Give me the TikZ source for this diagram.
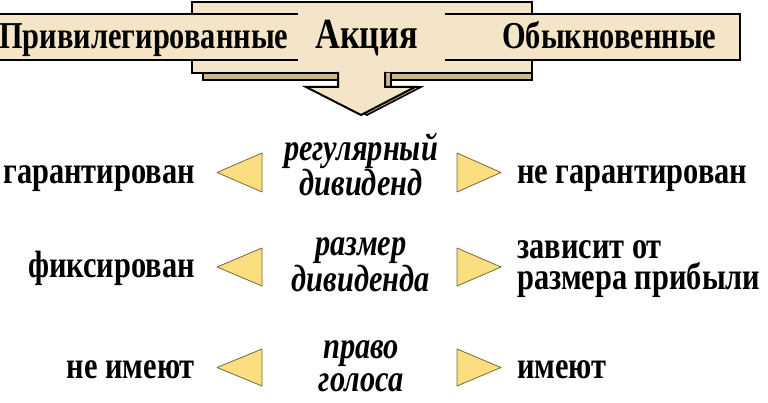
\documentclass[tikz,border=0pt]{standalone}
\usepackage{fontspec}
\setmainfont{Liberation Serif}[FakeStretch=0.80]
\definecolor{bezh}{RGB}{245,229,200}
\definecolor{tenj}{RGB}{204,182,140}
\definecolor{zhelt}{RGB}{250,222,128}
\definecolor{zhrama}{RGB}{120,105,60}

\begin{document}
\begin{tikzpicture}[
        x=1pt, y=-1pt, % координаты как в пикселях, ось y вниз
        ramka/.style = {draw=black, line width=2pt}, % контур шапки
        ten/.style = {fill=tenj, draw=black, line width=1.6pt}, % тень
        tri/.style = {fill=zhelt, draw=zhrama, line width=0.8pt, line join=round}, % треугольники
        zag/.style = {font=\fontsize{38}{38}\selectfont\bfseries, inner sep=0pt, anchor=base west},
        lev/.style = {font=\fontsize{38}{33}\selectfont\bfseries, inner sep=0pt, anchor=base east},
        prav/.style = {font=\fontsize{38}{32}\selectfont\bfseries, inner sep=0pt, anchor=base west, align=left},
        sred/.style = {font=\fontsize{38}{33}\selectfont\bfseries\itshape, inner sep=0pt, anchor=base, align=center},
    ]
    \useasboundingbox (0,0) rectangle (768,403);

    % шапка: плашка с тенью и стрелка вниз
    \draw[ten] (203,60) rectangle (532,80);
    \draw[ramka, fill=bezh] (192,2) rectangle (532,73);
    \draw[ten] (344,73) -- (344,87) -- (312,87) -- (367,115) -- (421,87) -- (391,87) -- (391,73);
    \draw[ramka, fill=bezh] (338,72) -- (338,87) -- (306,87) -- (361,115) -- (415,87) -- (385,87) -- (385,72);
    \fill[bezh] (-20,14) rectangle (740,60);
    \draw[ramka] (298,14) -- (-20,14);
    \draw[ramka] (-20,60) -- (298,60);
    \draw[ramka] (445,14) -- (740,14) -- (740,60) -- (445,60);

    \node[zag] (priv) at (-1,49) {Привилегированные};
    \node[zag, font=\fontsize{43}{43}\selectfont\bfseries] (akc) at (315,49) {Акция};
    \node[zag] (obyk) at (502,49) {Обыкновенные};

    % строки сравнения (у многострочных base -- по нижней строке)
    \node[lev] (l1) at (195,184) {гарантирован};
    \node[sred] (c1) at (361,196) {регулярный\\дивиденд};
    \node[prav] (r1) at (517,184) {не гарантирован};
    \draw[tri] (262,153) -- (217,172.5) -- (262,192) -- cycle;
    \draw[tri] (457,153) -- (501,172.5) -- (457,192) -- cycle;

    \node[lev] (l2) at (195,278) {фиксирован};
    \node[sred] (c2) at (361,291) {размер\\дивиденда};
    \node[prav] (r2) at (517,290) {зависит от\\размера прибыли};
    \draw[tri] (262,248) -- (217,267) -- (262,286) -- cycle;
    \draw[tri] (457,248) -- (501,267) -- (457,286) -- cycle;

    \node[lev] (l3) at (195,378) {не имеют};
    \node[sred] (c3) at (361,391) {право\\голоса};
    \node[prav] (r3) at (517,378) {имеют};
    \draw[tri] (262,349) -- (217,367.5) -- (262,386) -- cycle;
    \draw[tri] (457,349) -- (501,367.5) -- (457,386) -- cycle;
\end{tikzpicture}
\end{document}
